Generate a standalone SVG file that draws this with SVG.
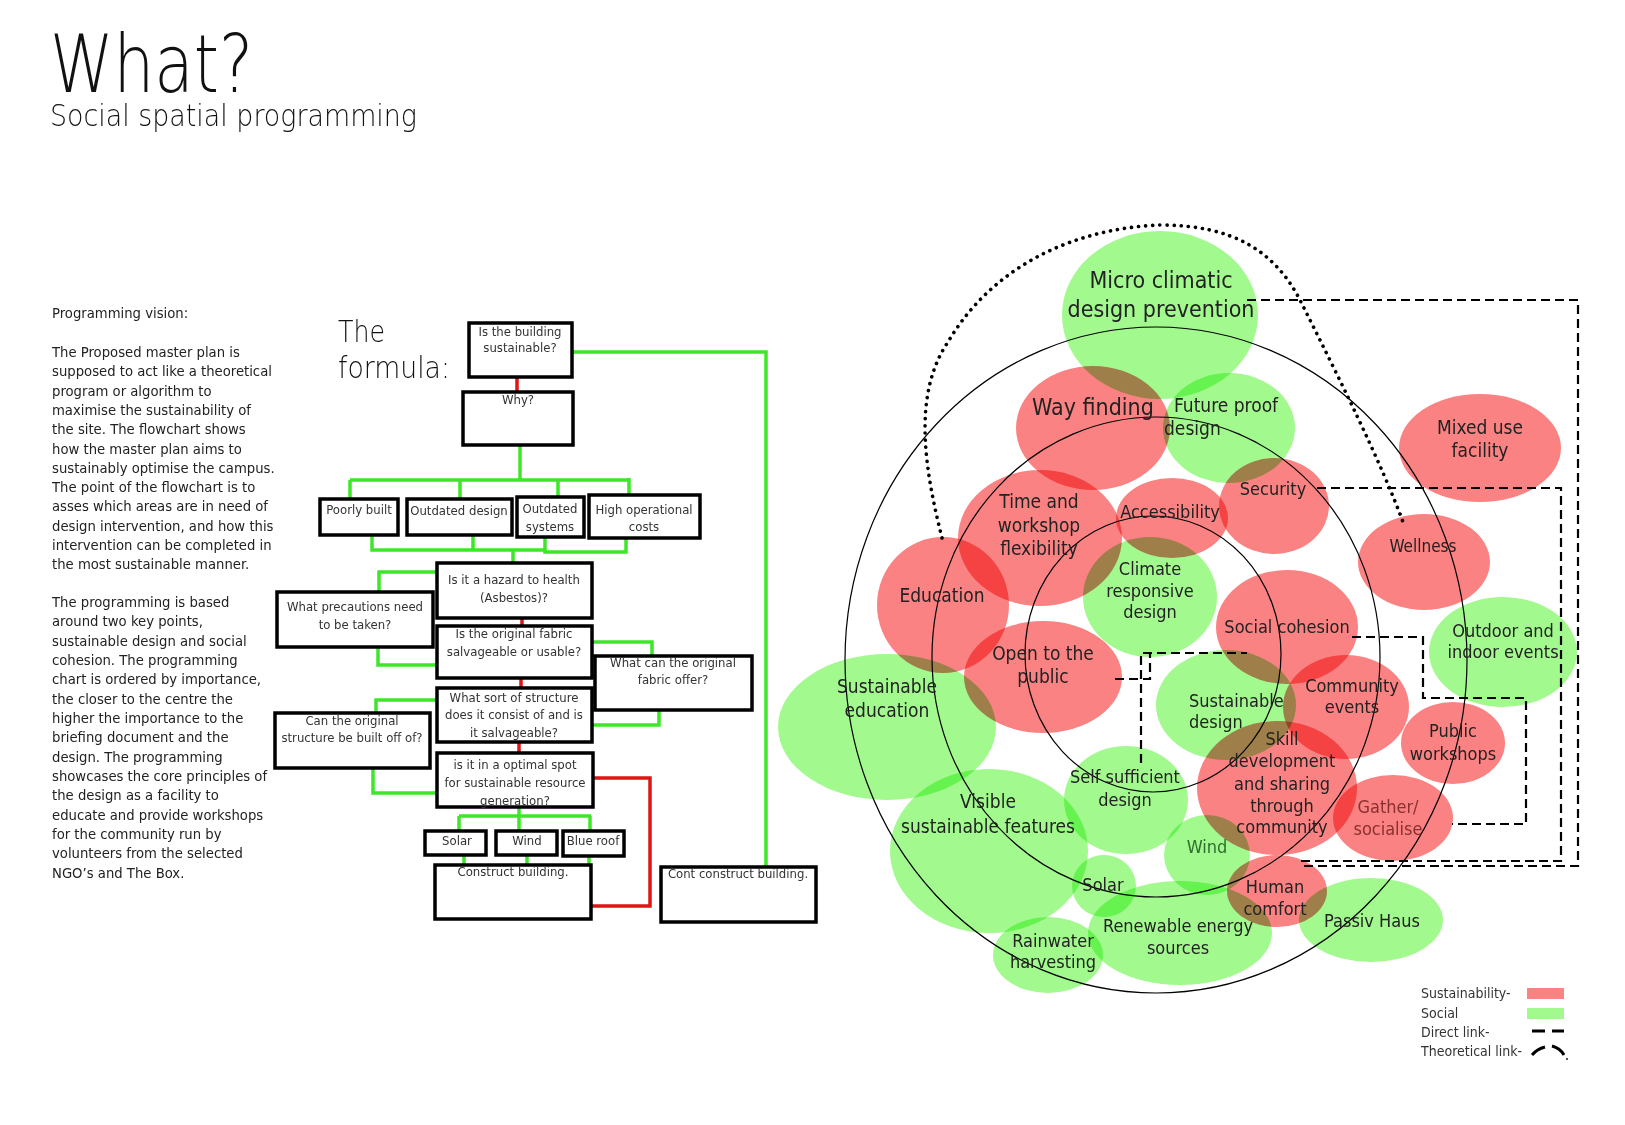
<svg xmlns="http://www.w3.org/2000/svg" width="1625" height="1125" viewBox="0 0 1625 1125">
<style>
text{font-family:'DejaVu Sans Condensed','DejaVu Sans',sans-serif;font-stretch:condensed;fill:#222}
.title{font-family:'DejaVu Sans',sans-serif;font-weight:200;font-stretch:normal;fill:#111}
.para{font-size:14.7px;fill:#333}
.fc{font-size:13px;fill:#333;text-anchor:middle}
.box{fill:#fff;stroke:#000;stroke-width:3.5}
.g{fill:none;stroke:#3ee62a;stroke-width:3.5}
.r{fill:none;stroke:#e01515;stroke-width:3.5}
.red{fill:#fa8282;mix-blend-mode:multiply}
.grn{fill:#a2f98e;mix-blend-mode:multiply}
.ring{fill:none;stroke:#000;stroke-width:1.2}
.dash{fill:none;stroke:#000;stroke-width:2.2;stroke-dasharray:9 5}
.dot{fill:none;stroke:#000;stroke-width:3.6;stroke-linecap:round;stroke-dasharray:0.1 7}
.lb{text-anchor:middle;font-size:18px}
.lg{font-size:14px;fill:#333}
</style>
<rect width="1625" height="1125" fill="#fff"/>

<g id="title">
<text class="title" x="50" y="92" font-size="80" textLength="203" lengthAdjust="spacingAndGlyphs">What?</text>
<text class="title" x="50" y="126" font-size="30" textLength="367" lengthAdjust="spacingAndGlyphs">Social spatial programming</text>
</g>

<g id="vision-text" class="para">
<text x="52" y="318">Programming vision:</text>
<text x="52" y="357">The Proposed master plan is</text>
<text x="52" y="376">supposed to act like a theoretical</text>
<text x="52" y="396">program or algorithm to</text>
<text x="52" y="415">maximise the sustainability of</text>
<text x="52" y="434">the site. The flowchart shows</text>
<text x="52" y="454">how the master plan aims to</text>
<text x="52" y="473">sustainably optimise the campus.</text>
<text x="52" y="492">The point of the flowchart is to</text>
<text x="52" y="511">asses which areas are in need of</text>
<text x="52" y="531">design intervention, and how this</text>
<text x="52" y="550">intervention can be completed in</text>
<text x="52" y="569">the most sustainable manner.</text>
</g>
<g id="programming-text" class="para">
<text x="52" y="607">The programming is based</text>
<text x="52" y="626">around two key points,</text>
<text x="52" y="646">sustainable design and social</text>
<text x="52" y="665">cohesion. The programming</text>
<text x="52" y="684">chart is ordered by importance,</text>
<text x="52" y="704">the closer to the centre the</text>
<text x="52" y="723">higher the importance to the</text>
<text x="52" y="742">briefing document and the</text>
<text x="52" y="762">design. The programming</text>
<text x="52" y="781">showcases the core principles of</text>
<text x="52" y="800">the design as a facility to</text>
<text x="52" y="820">educate and provide workshops</text>
<text x="52" y="839">for the community run by</text>
<text x="52" y="858">volunteers from the selected</text>
<text x="52" y="878">NGO’s and The Box.</text>
</g>

<g id="formula-label">
<text x="338" y="342" font-size="30" class="title" textLength="47" lengthAdjust="spacingAndGlyphs">The</text>
<text x="338" y="378" font-size="30" class="title" textLength="112" lengthAdjust="spacingAndGlyphs">formula:</text>
</g>

<g id="flow-connectors">
<path class="r" d="M517,377V392"/>
<path class="g" d="M572,352H766V867"/>
<path class="g" d="M520,445V480M350,480H630M350,480V499M460,480V499M558,480V497M629,478V495"/>
<path class="g" d="M372,535V550H545M473,535V550M545,537V552H626V538M513,550V563"/>
<path class="g" d="M437,572H379V592M378,647V665H437"/>
<path class="r" d="M522,618V627M521,678V688M519,742V753"/>
<path class="g" d="M592,642H652V657M659,710V725H592"/>
<path class="g" d="M437,700H376V714M373,768V793H437"/>
<path class="r" d="M593,778H650V906H590"/>
<path class="g" d="M519,807V816M459,816H591M459,816V831M519,816V831M590,816V831"/>
<path class="g" d="M464,855V865M527,855V865M589,856V865"/>
</g>

<g id="n-building"><rect class="box" x="469" y="323" width="103" height="54"/><text class="fc" x="520" y="336">Is the building</text><text class="fc" x="520" y="352">sustainable?</text></g>
<g id="n-why"><rect class="box" x="463" y="392" width="110" height="53"/><text class="fc" x="518" y="404">Why?</text></g>
<g id="n-poorly"><rect class="box" x="320" y="499" width="78" height="36"/><text class="fc" x="359" y="514">Poorly built</text></g>
<g id="n-outdesign"><rect class="box" x="407" y="499" width="105" height="36"/><text class="fc" x="459" y="515">Outdated design</text></g>
<g id="n-outsys"><rect class="box" x="517" y="497" width="67" height="40"/><text class="fc" x="550" y="513">Outdated</text><text class="fc" x="550" y="531">systems</text></g>
<g id="n-highcost"><rect class="box" x="589" y="495" width="111" height="43"/><text class="fc" x="644" y="514">High operational</text><text class="fc" x="644" y="531">costs</text></g>
<g id="n-hazard"><rect class="box" x="437" y="563" width="155" height="55"/><text class="fc" x="514" y="584">Is it a hazard to health</text><text class="fc" x="514" y="602">(Asbestos)?</text></g>
<g id="n-precaution"><rect class="box" x="277" y="592" width="156" height="55"/><text class="fc" x="355" y="611">What precautions need</text><text class="fc" x="355" y="629">to be taken?</text></g>
<g id="n-fabric"><rect class="box" x="437" y="626" width="155" height="52"/><text class="fc" x="514" y="638">Is the original fabric</text><text class="fc" x="514" y="656">salvageable or usable?</text></g>
<g id="n-fabricoffer"><rect class="box" x="595" y="656" width="157" height="54"/><text class="fc" x="673" y="667">What can the original</text><text class="fc" x="673" y="684">fabric offer?</text></g>
<g id="n-structure"><rect class="box" x="437" y="688" width="155" height="54"/><text class="fc" x="514" y="702">What sort of structure</text><text class="fc" x="514" y="719">does it consist of and is</text><text class="fc" x="514" y="737">it salvageable?</text></g>
<g id="n-builtoff"><rect class="box" x="275" y="713" width="155" height="55"/><text class="fc" x="352" y="725">Can the original</text><text class="fc" x="352" y="742">structure be built off of?</text></g>
<g id="n-optimal"><rect class="box" x="437" y="753" width="156" height="54"/><text class="fc" x="515" y="769">is it in a optimal spot</text><text class="fc" x="515" y="787">for sustainable resource</text><text class="fc" x="515" y="805">generation?</text></g>
<g id="n-solar"><rect class="box" x="425" y="831" width="61" height="24"/><text class="fc" x="457" y="845">Solar</text></g>
<g id="n-wind"><rect class="box" x="496" y="831" width="61" height="24"/><text class="fc" x="527" y="845">Wind</text></g>
<g id="n-blueroof"><rect class="box" x="563" y="831" width="61" height="25"/><text class="fc" x="593" y="845">Blue roof</text></g>
<g id="n-construct"><rect class="box" x="435" y="865" width="156" height="54"/><text class="fc" x="513" y="876">Construct building.</text></g>
<g id="n-contconstruct"><rect class="box" x="661" y="867" width="155" height="55"/><text class="fc" x="738" y="878">Cont construct building.</text></g>

<g id="bubbles">
<ellipse class="grn" cx="1160" cy="315" rx="98" ry="84"/>
<ellipse class="red" cx="1093" cy="428" rx="77" ry="62"/>
<ellipse class="grn" cx="1229" cy="428" rx="66" ry="55"/>
<ellipse class="red" cx="1040" cy="538" rx="82" ry="68"/>
<ellipse class="red" cx="943" cy="605" rx="66" ry="68"/>
<ellipse class="red" cx="1172" cy="518" rx="56" ry="40"/>
<ellipse class="red" cx="1274" cy="506" rx="55" ry="48"/>
<ellipse class="grn" cx="1150" cy="597" rx="67" ry="60"/>
<ellipse class="red" cx="1480" cy="448" rx="81" ry="54"/>
<ellipse class="red" cx="1424" cy="562" rx="66" ry="48"/>
<ellipse class="red" cx="1287" cy="627" rx="71" ry="57"/>
<ellipse class="grn" cx="1503" cy="652" rx="74" ry="55"/>
<ellipse class="red" cx="1043" cy="677" rx="79" ry="56"/>
<ellipse class="grn" cx="887" cy="727" rx="109" ry="73"/>
<ellipse class="grn" cx="1226" cy="705" rx="70" ry="55"/>
<ellipse class="red" cx="1346" cy="707" rx="63" ry="52"/>
<ellipse class="red" cx="1453" cy="743" rx="52" ry="41"/>
<ellipse class="red" cx="1277" cy="788" rx="80" ry="67"/>
<ellipse class="red" cx="1393" cy="818" rx="60" ry="43"/>
<ellipse class="grn" cx="1126" cy="800" rx="62" ry="54"/>
<ellipse class="grn" cx="989" cy="851" rx="99" ry="82"/>
<ellipse class="grn" cx="1207" cy="855" rx="43" ry="40"/>
<ellipse class="grn" cx="1104" cy="886" rx="32" ry="31"/>
<ellipse class="red" cx="1277" cy="891" rx="50" ry="36"/>
<ellipse class="grn" cx="1180" cy="933" rx="92" ry="52"/>
<ellipse class="grn" cx="1048" cy="955" rx="55" ry="38"/>
<ellipse class="grn" cx="1371" cy="920" rx="72" ry="42"/>
</g>

<g id="rings">
<ellipse class="ring" cx="1156" cy="660" rx="311" ry="333"/>
<ellipse class="ring" cx="1156" cy="657" rx="224" ry="240"/>
<ellipse class="ring" cx="1153" cy="654" rx="128" ry="138"/>
</g>

<g id="links">
<path class="dash" d="M1247,300H1578V866H1303"/>
<path class="dash" d="M1317,488H1561V861H1297"/>
<path class="dash" d="M1352,637H1423V698H1526V824H1452"/>
<path class="dash" d="M1115,679H1150V653M1141,763V653H1247"/>
<path class="dot" d="M942,538C925,470 912,395 948,342C995,262 1080,228 1160,225C1232,225 1274,250 1300,300C1340,380 1380,460 1403,522"/>
</g>

<g id="bubble-labels" class="lb">
<text x="1161" y="288" font-size="23">Micro climatic</text>
<text x="1161" y="317" font-size="23">design prevention</text>
<text x="1093" y="415" font-size="23">Way finding</text>
<text x="1174" y="412" text-anchor="start" font-size="19">Future proof</text>
<text x="1164" y="435" text-anchor="start" font-size="19">design</text>
<text x="1039" y="508" font-size="19">Time and</text>
<text x="1039" y="532" font-size="19">workshop</text>
<text x="1039" y="555" font-size="19">flexibility</text>
<text x="942" y="602" font-size="19">Education</text>
<text x="1170" y="518">Accessibility</text>
<text x="1273" y="495">Security</text>
<text x="1150" y="575">Climate</text>
<text x="1150" y="597">responsive</text>
<text x="1150" y="618">design</text>
<text x="1480" y="434" font-size="19">Mixed use</text>
<text x="1480" y="457" font-size="19">facility</text>
<text x="1423" y="552" font-size="17">Wellness</text>
<text x="1287" y="633">Social cohesion</text>
<text x="1503" y="637">Outdoor and</text>
<text x="1503" y="658">indoor events</text>
<text x="1043" y="660" font-size="19">Open to the</text>
<text x="1043" y="683" font-size="19">public</text>
<text x="887" y="693" font-size="19">Sustainable</text>
<text x="887" y="717" font-size="19">education</text>
<text x="1189" y="707" text-anchor="start">Sustainable</text>
<text x="1189" y="728" text-anchor="start">design</text>
<text x="1352" y="692">Community</text>
<text x="1352" y="713">events</text>
<text x="1453" y="737">Public</text>
<text x="1453" y="760">workshops</text>
<text x="1282" y="745">Skill</text>
<text x="1282" y="767">development</text>
<text x="1282" y="790">and sharing</text>
<text x="1282" y="812">through</text>
<text x="1282" y="833">community</text>
<text x="1388" y="813" style="fill:#8a3030">Gather/</text>
<text x="1388" y="835" style="fill:#8a3030">socialise</text>
<text x="1125" y="783">Self sufficient</text>
<text x="1125" y="806">design</text>
<text x="988" y="808" font-size="19">Visible</text>
<text x="988" y="833" font-size="19">sustainable features</text>
<text x="1207" y="853" style="fill:#2f6e2f">Wind</text>
<text x="1103" y="891">Solar</text>
<text x="1275" y="893">Human</text>
<text x="1275" y="915">comfort</text>
<text x="1178" y="932">Renewable energy</text>
<text x="1178" y="954">sources</text>
<text x="1053" y="947">Rainwater</text>
<text x="1053" y="968">harvesting</text>
<text x="1372" y="927">Passiv Haus</text>
</g>

<g id="legend">
<text class="lg" x="1421" y="998">Sustainability-</text>
<text class="lg" x="1421" y="1018">Social</text>
<text class="lg" x="1421" y="1037">Direct link-</text>
<text class="lg" x="1421" y="1056">Theoretical link-</text>
<rect x="1527" y="988" width="37" height="11" fill="#fa8282"/>
<rect x="1527" y="1008" width="37" height="11" fill="#a2f98e"/>
<path d="M1532,1031H1545M1552,1031H1564" stroke="#000" stroke-width="3" fill="none"/>
<path d="M1532,1055Q1537,1049 1545,1047M1552,1046Q1560,1048 1564,1055" stroke="#000" stroke-width="3" fill="none"/>
<circle cx="1567" cy="1059" r="0.9" fill="#000"/>
</g>
</svg>
